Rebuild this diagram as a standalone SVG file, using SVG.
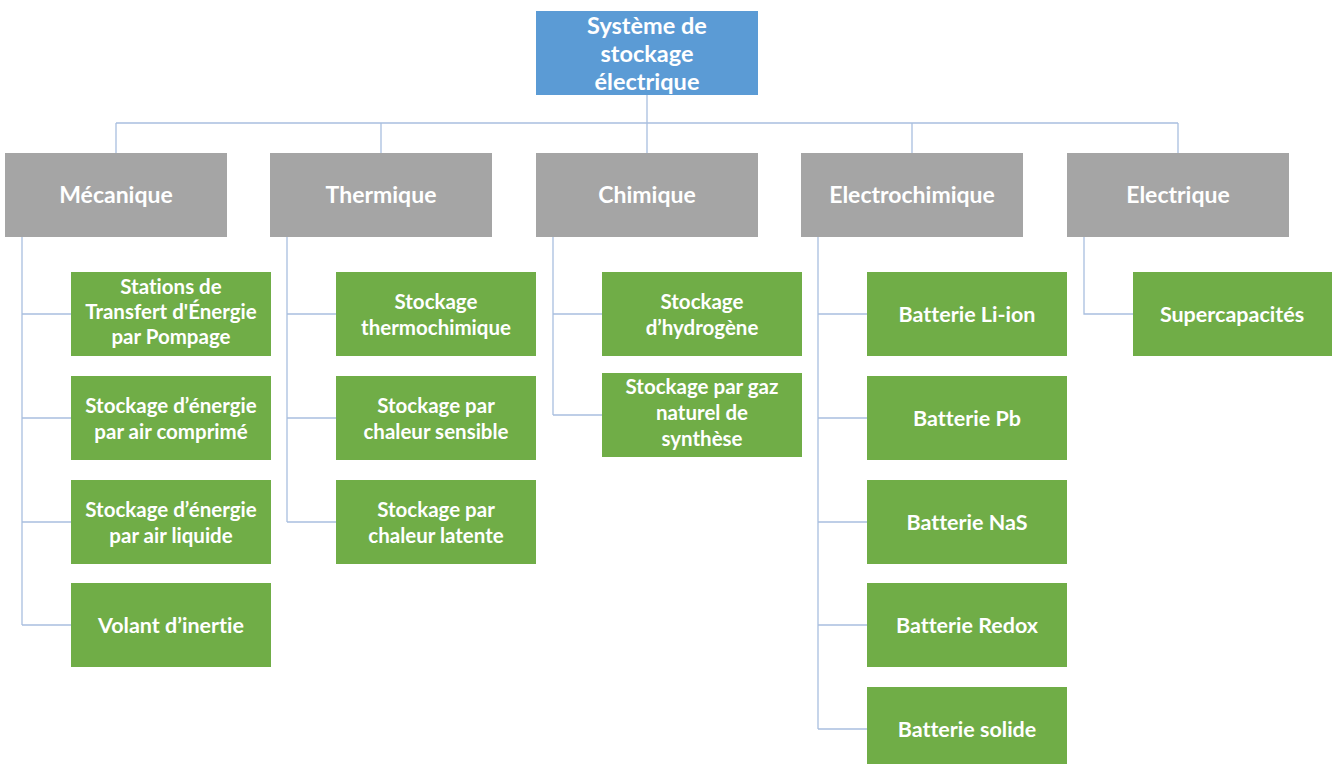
<svg xmlns="http://www.w3.org/2000/svg" width="1336" height="764" viewBox="0 0 1336 764">
<style>
.root{fill:#5B9BD5}
.cat{fill:#A5A5A5}
.leaf{fill:#70AD47}
text{font-family:Lato,"Liberation Sans",sans-serif;font-weight:bold;fill:#FFFFFF;text-anchor:middle;font-variant-ligatures:none}
.t-root{font-size:23.5px}
.t-cat{font-size:23px}
.t-one{font-size:21.5px}
.t-multi{font-size:20.5px}
.conn{stroke:#A9BFDF;stroke-width:1.3;fill:none}
</style>
<rect width="1336" height="764" fill="#FFFFFF"/>
<g id="connectors">
<path class="conn" d="M647 95V123M116 123H1178M116 123V153M381 123V153M647 123V153M912 123V153M1178 123V153"/>
<path class="conn" d="M22 237V625M22 314H71M22 418H71M22 522H71M22 625H71"/>
<path class="conn" d="M287 237V522M287 314H336M287 418H336M287 522H336"/>
<path class="conn" d="M553 237V415M553 314H602M553 415H602"/>
<path class="conn" d="M818 237V729M818 314H867M818 418H867M818 522H867M818 625H867M818 729H867"/>
<path class="conn" d="M1084 237V314H1133"/>
</g>
<g id="root"><rect class="root" x="536" y="11" width="222" height="84"/><text class="t-root" x="647" y="34">Système de</text><text class="t-root" x="647" y="62">stockage</text><text class="t-root" x="647" y="90">électrique</text></g>
<g id="cat-mecanique"><rect class="cat" x="5" y="153" width="222" height="84"/><text class="t-cat" x="116" y="203">Mécanique</text></g>
<g id="cat-thermique"><rect class="cat" x="270" y="153" width="222" height="84"/><text class="t-cat" x="381" y="203">Thermique</text></g>
<g id="cat-chimique"><rect class="cat" x="536" y="153" width="222" height="84"/><text class="t-cat" x="647" y="203">Chimique</text></g>
<g id="cat-electrochimique"><rect class="cat" x="801" y="153" width="222" height="84"/><text class="t-cat" x="912" y="203">Electrochimique</text></g>
<g id="cat-electrique"><rect class="cat" x="1067" y="153" width="222" height="84"/><text class="t-cat" x="1178" y="203">Electrique</text></g>
<g id="m1"><rect class="leaf" x="71" y="272" width="200" height="84"/><text class="t-multi" x="171" y="294">Stations de</text><text class="t-multi" x="171" y="319">Transfert d'Énergie</text><text class="t-multi" x="171" y="344">par Pompage</text></g>
<g id="m2"><rect class="leaf" x="71" y="376" width="200" height="84"/><text class="t-multi" x="171" y="413">Stockage d’énergie</text><text class="t-multi" x="171" y="439">par air comprimé</text></g>
<g id="m3"><rect class="leaf" x="71" y="480" width="200" height="84"/><text class="t-multi" x="171" y="517">Stockage d’énergie</text><text class="t-multi" x="171" y="543">par air liquide</text></g>
<g id="m4"><rect class="leaf" x="71" y="583" width="200" height="84"/><text class="t-one" x="171" y="633">Volant d’inertie</text></g>
<g id="t1"><rect class="leaf" x="336" y="272" width="200" height="84"/><text class="t-multi" x="436" y="309">Stockage</text><text class="t-multi" x="436" y="335">thermochimique</text></g>
<g id="t2"><rect class="leaf" x="336" y="376" width="200" height="84"/><text class="t-multi" x="436" y="413">Stockage par</text><text class="t-multi" x="436" y="439">chaleur sensible</text></g>
<g id="t3"><rect class="leaf" x="336" y="480" width="200" height="84"/><text class="t-multi" x="436" y="517">Stockage par</text><text class="t-multi" x="436" y="543">chaleur latente</text></g>
<g id="c1"><rect class="leaf" x="602" y="272" width="200" height="84"/><text class="t-multi" x="702" y="309">Stockage</text><text class="t-multi" x="702" y="335">d’hydrogène</text></g>
<g id="c2"><rect class="leaf" x="602" y="373" width="200" height="84"/><text class="t-multi" x="702" y="394">Stockage par gaz</text><text class="t-multi" x="702" y="420">naturel de</text><text class="t-multi" x="702" y="446">synthèse</text></g>
<g id="e1"><rect class="leaf" x="867" y="272" width="200" height="84"/><text class="t-one" x="967" y="322">Batterie Li-ion</text></g>
<g id="e2"><rect class="leaf" x="867" y="376" width="200" height="84"/><text class="t-one" x="967" y="426">Batterie Pb</text></g>
<g id="e3"><rect class="leaf" x="867" y="480" width="200" height="84"/><text class="t-one" x="967" y="530">Batterie NaS</text></g>
<g id="e4"><rect class="leaf" x="867" y="583" width="200" height="84"/><text class="t-one" x="967" y="633">Batterie Redox</text></g>
<g id="e5"><rect class="leaf" x="867" y="687" width="200" height="84"/><text class="t-one" x="967" y="737">Batterie solide</text></g>
<g id="el1"><rect class="leaf" x="1133" y="272" width="199" height="84"/><text class="t-one" x="1232" y="322">Supercapacités</text></g>
</svg>
